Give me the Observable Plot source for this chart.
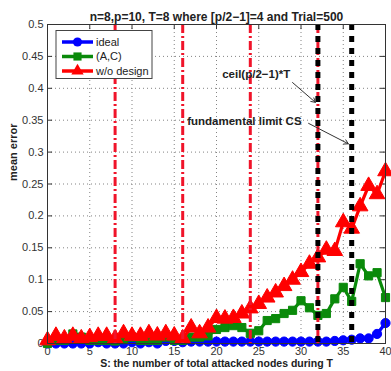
<!DOCTYPE html>
<html>
<head>
<meta charset="utf-8">
<script src="https://cdn.jsdelivr.net/npm/d3@7"></script>
<script src="https://cdn.jsdelivr.net/npm/@observablehq/plot@0.6"></script>
<style>
  html, body { margin: 0; padding: 0; background: #fff; }
  #chart svg { display: block; }
</style>
</head>
<body>
<div id="chart"></div>
<script>
const titleText = "n=8,p=10, T=8 where [p/2\u22121]=4 and Trial=500";
const xLabel = "S: the number of total attacked nodes during T";
const yLabel = "mean error";

const S = [0,1,2,3,4,5,6,7,8,9,10,11,12,13,14,15,16,17,18,19,20,21,22,23,24,25,26,27,28,29,30,31,32,33,34,35,36,37,38,39,40];
const ideal = [0,0,0,0,0,0,0.002,0,0,0,0.002,0,0.002,0,0.004,0.004,0.002,0.003,0.003,0.003,0.003,0.003,0.003,0.003,0.003,0.003,0.003,0.003,0.003,0.003,0.003,0.003,0.003,0.003,0.004,0.005,0.006,0.008,0.008,0.015,0.032];
const ac = [0,0.005,0.005,0.015,0.01,0.005,0.005,0.005,0.004,0.006,0.01,0.005,0.005,0.005,0.01,0.005,0.005,0.01,0.01,0.012,0.022,0.025,0.028,0.025,0.016,0.02,0.036,0.039,0.047,0.052,0.067,0.056,0.044,0.047,0.07,0.088,0.066,0.125,0.106,0.111,0.072];
const wo = [0.005,0.012,0.008,0.012,0.008,0.01,0.012,0.012,0.008,0.016,0.012,0.012,0.016,0.0125,0.016,0.0125,0.008,0.025,0.016,0.025,0.04,0.039,0.04,0.047,0.055,0.062,0.072,0.08,0.09,0.1,0.112,0.125,0.135,0.147,0.145,0.19,0.18,0.215,0.247,0.234,0.27];

const seriesNames = ["ideal", "(A,C)", "w/o design"];
const seriesColors = ["#0000ff", "#0a8a0a", "#ff0000"];
const seriesSymbols = ["circle", "square", "triangle"];
const seriesR = [4.6, 4.6, 5.8];

const xTicks = [0,5,10,15,20,25,30,35,40];
const yTicks = [0,0.05,0.1,0.15,0.2,0.25,0.3,0.35,0.4,0.45,0.5];
const redLines = [8,16,24,32];
const blackLines = [32,36];

const annotations = [
  {label: "ceil(p/2\u22121)*T", x: 24.7, y: 0.422, x1: 29.0, y1: 0.409, x2: 31.7, y2: 0.378, fs: 11.5},
  {label: "fundamental limit CS", x: 23.3, y: 0.348, x1: 30.9, y1: 0.345, x2: 35.6, y2: 0.313, fs: 12}
];

const allSeries = [ideal, ac, wo];
const rows = [];
allSeries.forEach((vals, k) => vals.forEach((v, i) => rows.push({s: S[i], v, k})));

const marks = [
  Plot.gridX(xTicks, {stroke: "#777", strokeOpacity: 0.9, strokeDasharray: "1,3"}),
  Plot.gridY(yTicks, {stroke: "#777", strokeOpacity: 0.9, strokeDasharray: "1,3"}),
  Plot.axisX(xTicks, {tickSize: 0, tickPadding: 4, fontSize: 11, fill: "#333", label: null}),
  Plot.axisY(yTicks, {tickSize: 0, tickPadding: 4, fontSize: 11, fill: "#333", label: null, tickFormat: d => String(d)}),
  // inward ticks (MATLAB style)
  Plot.ruleX(xTicks, {y1: 0, y2: 0.008, stroke: "#333"}),
  Plot.ruleX(xTicks, {y1: 0.5, y2: 0.492, stroke: "#333"}),
  Plot.ruleY(yTicks, {x1: 0, x2: 0.6, stroke: "#333"}),
  Plot.ruleY(yTicks, {x1: 40, x2: 39.4, stroke: "#333"})
];
allSeries.forEach((vals, k) => {
  const d = rows.filter(r => r.k === k);
  marks.push(Plot.line(d, {x: "s", y: "v", stroke: seriesColors[k], strokeWidth: 3.2}));
  marks.push(Plot.dot(d, {x: "s", y: "v", fill: seriesColors[k], stroke: seriesColors[k], strokeWidth: 1, symbol: seriesSymbols[k], r: seriesR[k]}));
});
marks.push(
  Plot.ruleX(redLines, {stroke: "#f0142a", strokeWidth: 3, strokeDasharray: "9,3,2,3"}),
  Plot.ruleX(blackLines, {stroke: "#000", strokeWidth: 5, strokeDasharray: "6,6"}),
  Plot.text(annotations, {x: "x", y: "y", text: "label", fontSize: 11.5, fontWeight: "bold", fill: "#222"}),
  Plot.arrow(annotations, {x1: "x1", y1: "y1", x2: "x2", y2: "y2", stroke: "#333", strokeWidth: 1, headLength: 7}),
  Plot.frame({stroke: "#333"}),
  Plot.text([titleText], {frameAnchor: "top", dy: -12, fontSize: 12, fontWeight: "bold", fill: "#222"}),
  Plot.text([xLabel], {frameAnchor: "bottom", dy: 23, fontSize: 10.5, fontWeight: "bold", fill: "#222"}),
  Plot.text([yLabel], {frameAnchor: "left", dx: -34, dy: -3, rotate: -90, fontSize: 11, fontWeight: "bold", fill: "#222"})
);

const chart = Plot.plot({
  width: 391,
  height: 371,
  marginLeft: 47,
  marginRight: 6,
  marginTop: 24,
  marginBottom: 28,
  style: {fontFamily: "'Liberation Sans', Arial, sans-serif", background: "#fff"},
  x: {domain: [0, 40]},
  y: {domain: [0, 0.5]},
  marks
});

// legend
const svg = d3.select(chart);
const lg = svg.append("g").attr("font-family", "'Liberation Sans', Arial, sans-serif").attr("font-size", 11).attr("text-anchor", "start");
lg.append("rect").attr("x", 56).attr("y", 30.5).attr("width", 96).attr("height", 48).attr("fill", "#fff").attr("stroke", "#444");
const symMap = {circle: d3.symbolCircle, square: d3.symbolSquare, triangle: d3.symbolTriangle};
seriesNames.forEach((name, k) => {
  const yy = 42 + k * 14.5;
  lg.append("line").attr("x1", 62).attr("x2", 93).attr("y1", yy).attr("y2", yy).attr("stroke", seriesColors[k]).attr("stroke-width", 3.5);
  lg.append("path").attr("transform", `translate(77.5,${yy})`).attr("d", d3.symbol(symMap[seriesSymbols[k]], Math.PI * 4.6 * 4.6)()).attr("fill", seriesColors[k]);
  lg.append("text").attr("x", 96).attr("y", yy).attr("dy", "0.35em").attr("text-anchor", "start").attr("fill", "#222").text(name);
});

document.getElementById("chart").appendChild(chart);
</script>
</body>
</html>
